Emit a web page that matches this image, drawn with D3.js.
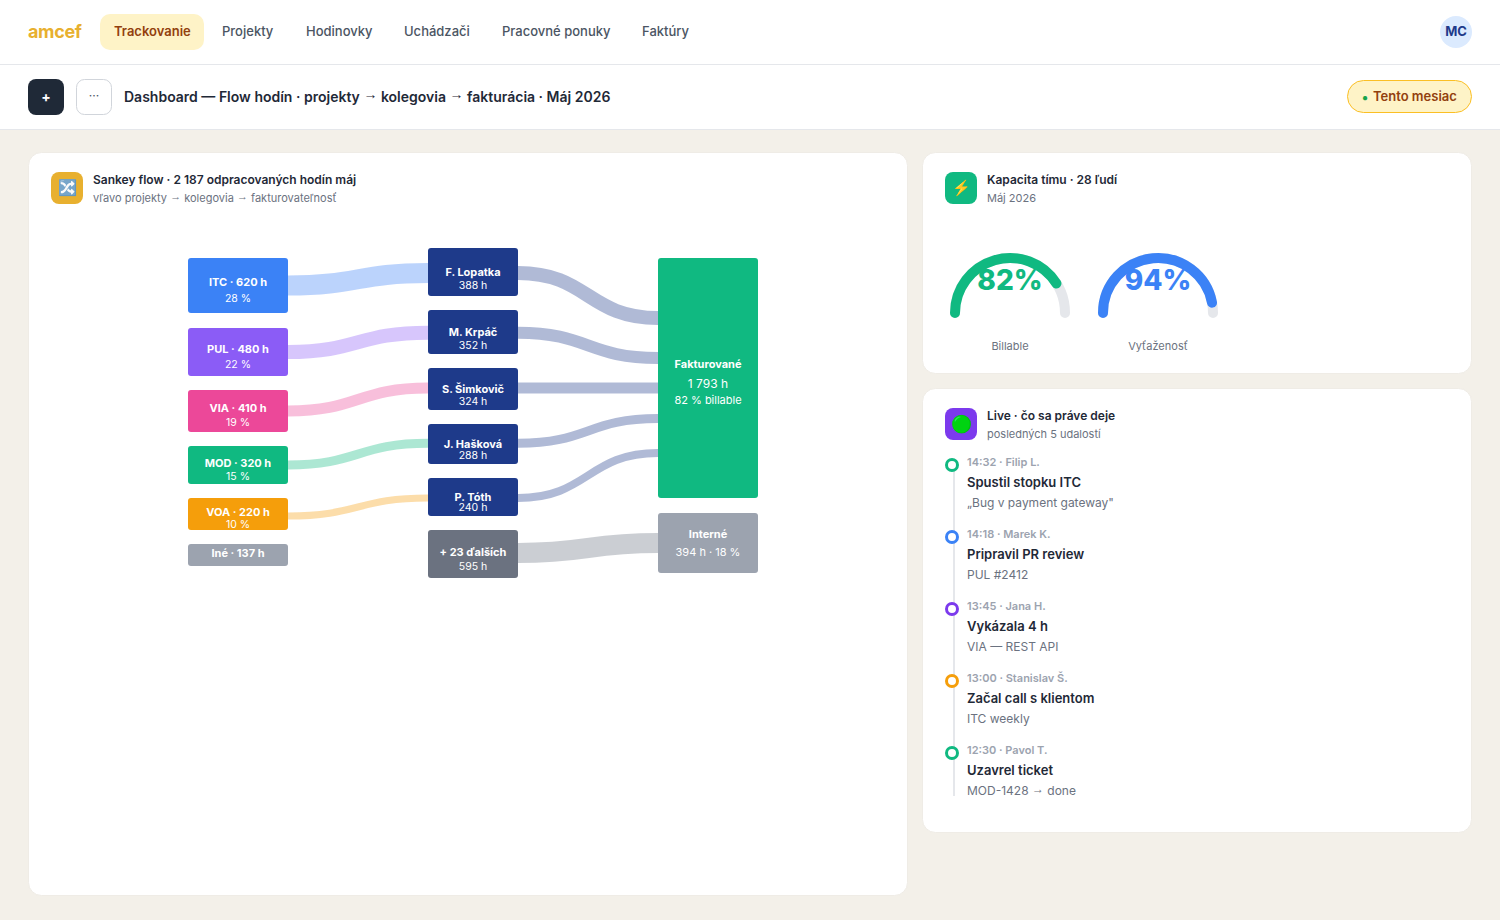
<!DOCTYPE html>
<html lang="sk">
<head>
<meta charset="utf-8">
<title>Dashboard</title>
<script src="https://cdn.jsdelivr.net/npm/d3@7"></script>
<style>
  body { margin: 0; background: #f3f0e9; overflow: hidden; }
  svg { display: block; font-family: Inter, "Noto Sans", sans-serif; }
</style>
</head>
<body>
<svg id="page" width="1500" height="920"></svg>
<script>
// nav + header
const navItems = ['Trackovanie', 'Projekty', 'Hodinovky', 'Uchádzači', 'Pracovné ponuky', 'Faktúry'];
const pageTitle = 'Dashboard — Flow hodín · projekty → kolegovia → fakturácia · Máj 2026';

// sankey columns
const projectNames = ['ITC', 'PUL', 'VIA', 'MOD', 'VOA', 'Iné'];
const projectHours = [620, 480, 410, 320, 220, 137];
const projectShares = [28, 22, 19, 15, 10, null];
const personNames = ['F. Lopatka', 'M. Krpáč', 'S. Šimkovič', 'J. Hašková', 'P. Tóth', '+ 23 ďalších'];
const personHours = [388, 352, 324, 288, 240, 595];
const outcomeNames = ['Fakturované', 'Interné'];
const outcomeHours = [1793, 394];

// flows: each project feeds the person in the same row, each person feeds an outcome
const projectLinkHours = [620, 480, 410, 320, 220];
const personLinkHours = [388, 352, 324, 288, 240, 595];
const personOutcome = ['Fakturované', 'Fakturované', 'Fakturované', 'Fakturované', 'Fakturované', 'Interné'];

// gauges
const gaugeLabels = ['Billable', 'Vyťaženosť'];
const gaugeValues = [82, 94];

// live feed
const eventTimes = ['14:32', '14:18', '13:45', '13:00', '12:30'];
const eventPeople = ['Filip L.', 'Marek K.', 'Jana H.', 'Stanislav Š.', 'Pavol T.'];
const eventTitles = ['Spustil stopku ITC', 'Pripravil PR review', 'Vykázala 4 h', 'Začal call s klientom', 'Uzavrel ticket'];
const eventDetails = ['„Bug v payment gateway"', 'PUL #2412', 'VIA — REST API', 'ITC weekly', 'MOD-1428 → done'];

const svg = d3.select('#page');
const fmt = d3.formatLocale({ decimal: ',', thousands: '\u00a0', grouping: [3], currency: ['', ''] }).format(',d');

function txt(parent, x, y, str, size, weight, color, anchor) {
    const t = parent.append('text')
        .attr('x', x).attr('y', y)
        .attr('font-size', size).attr('font-weight', weight)
        .attr('fill', color).attr('text-anchor', anchor || 'start');
    // Liberation has the thin arrow, but it sits too low, so lift it
    str.split('→').forEach((part, i) => {
        if (i > 0) {
            t.append('tspan').attr('font-family', 'Liberation Sans')
                .attr('dy', '-.2em').text('→');
        }
        t.append('tspan').attr('dy', i > 0 ? '.2em' : 0).text(part);
    });
    return t;
}

function box(parent, x, y, w, h, r, fill, stroke) {
    return parent.append('rect')
        .attr('x', x).attr('y', y).attr('width', w).attr('height', h).attr('rx', r)
        .attr('fill', fill).attr('stroke', stroke || 'none');
}

// ---- top bars
box(svg, 0, 0, 1500, 129.5, 0, '#fff');
svg.append('rect').attr('x', 0).attr('y', 64).attr('width', 1500).attr('height', 1).attr('fill', '#e5e7eb');
svg.append('rect').attr('x', 0).attr('y', 129).attr('width', 1500).attr('height', 1).attr('fill', '#e5e7eb');

txt(svg, 28, 37.5, 'amcef', 18, 700, '#e8b02f').attr('letter-spacing', -.36);

const navX = d3.scaleOrdinal(navItems, [114, 222, 306, 404, 502, 642]);
box(svg, 100, 14, 104, 36, 10, '#fef3c7');
navItems.forEach((d, i) => {
    txt(svg, navX(d), 36, d, 13, i === 0 ? 600 : 500, i === 0 ? '#92400e' : '#4b5563');
});

svg.append('circle').attr('cx', 1456).attr('cy', 32).attr('r', 16).attr('fill', '#dbeafe');
txt(svg, 1456, 36, 'MC', 13, 700, '#1e3a8a', 'middle');

box(svg, 28, 79, 36, 36, 8, '#1f2937');
txt(svg, 46, 101.5, '+', 14, 700, '#fff', 'middle');
box(svg, 76.5, 79.5, 35, 35, 8, '#fff', '#d1d5db');
txt(svg, 94, 100, '···', 12, 400, '#4b5563', 'middle');
txt(svg, 124, 102, pageTitle, 14, 600, '#1f2937');

box(svg, 1347.5, 80.5, 124, 32, 16, '#fef3c7', '#fbbf24');
const badge = txt(svg, 1362, 101, '', 13, 600, '#92400e');
badge.append('tspan').attr('fill', '#16a34a').attr('font-family', 'Liberation Sans').attr('font-size', 10).text('●');
badge.append('tspan').attr('x', 1373).text('Tento mesiac');

// ---- cards
function card(x, y, w, h, iconColor, icon, iconSize, iconFilter, title, sub) {
    const g = svg.append('g');
    box(g, x + .5, y + .5, w - 1, h - 1, 13, '#fff', '#efece6');
    box(g, x + 23, y + 20, 32, 32, 8, iconColor);
    txt(g, x + 39, y + 36 + iconSize * .35, icon, iconSize, 400, '#fff', 'middle').style('filter', iconFilter);
    txt(g, x + 65, y + 32, title, 12, 600, '#1f2937');
    txt(g, x + 65, y + 50, sub, 11, 400, '#6b7280');
    return g;
}

const sankeyTitle = 'Sankey flow · ' + fmt(d3.sum(outcomeHours)) + ' odpracovaných hodín máj';
card(28, 152, 880, 744, '#e8b02f', '🔀', 15.5, 'hue-rotate(180deg) saturate(.45)', sankeyTitle, 'vľavo projekty → kolegovia → fakturovateľnosť');
card(922, 152, 550, 222, '#10b981', '⚡', 15, 'none', 'Kapacita tímu · 28 ľudí', 'Máj 2026');
card(922, 388, 550, 445, '#7c3aed', '🟢', 17, 'hue-rotate(35deg) saturate(2.5) brightness(.9)', 'Live · čo sa práve deje', 'posledných 5 udalostí');

// ---- sankey
const colX = d3.scaleOrdinal(['project', 'person', 'outcome'], [188, 428, 658]);
const colW = d3.scaleOrdinal(['project', 'person', 'outcome'], [100, 90, 100]);

const allNames = projectNames.concat(personNames, outcomeNames);
const nodeTop = d3.scaleOrdinal(allNames, [258, 328, 390, 446, 498, 544, 248, 310, 368, 424, 478, 530, 258, 513]);
const nodeHeight = d3.scaleOrdinal(allNames, [55, 48, 42, 38, 32, 22, 48, 44, 42, 40, 38, 48, 240, 60]);
const projectColor = d3.scaleOrdinal(projectNames, ['#3b82f6', '#8b5cf6', '#ec4899', '#10b981', '#f59e0b', '#9ca3af']);
const personColor = d3.scaleOrdinal(personNames, ['#1e3a8a', '#1e3a8a', '#1e3a8a', '#1e3a8a', '#1e3a8a', '#6b7280']);
const outcomeColor = d3.scaleOrdinal(outcomeNames, ['#10b981', '#9ca3af']);

// link thickness, read per column because it does not follow the node size
const projectLinkW = d3.scaleLinear().domain([220, 320, 410, 480, 620]).range([7, 9, 11, 14, 20]);
const personLinkW = d3.scaleLinear().domain([240, 288, 324, 352, 388, 595]).range([8, 9, 11, 12, 14, 20]);

// where links leave and enter the nodes
const projectOutY = d3.scaleOrdinal(projectNames, [285.5, 352, 411, 465, 516]);
const personPortY = d3.scaleOrdinal(personNames, [273, 332.7, 388, 443.3, 498, 553]);
const entryY = d3.scaleOrdinal(personNames, [318, 358, 388, 418.5, 453, 543]);
const midY = name => nodeTop(name) + nodeHeight(name) / 2;

const linkPath = d3.linkHorizontal().x(d => d[0]).y(d => d[1]);
const sankey = svg.append('g');

const projectLinks = projectLinkHours.map((v, i) => ({ value: v, from: projectNames[i], to: personNames[i] }));
sankey.append('g').selectAll('path').data(projectLinks).join('path')
    .attr('fill', 'none')
    .attr('stroke', d => projectColor(d.from))
    .attr('stroke-opacity', .35)
    .attr('stroke-width', d => projectLinkW(d.value))
    .attr('d', d => linkPath({
        source: [colX('project') + colW('project'), projectOutY(d.from)],
        target: [colX('person'), personPortY(d.to)]
    }));

const personLinks = personLinkHours.map((v, i) => ({ value: v, from: personNames[i], to: personOutcome[i] }));
sankey.append('g').selectAll('path').data(personLinks).join('path')
    .attr('fill', 'none')
    .attr('stroke', d => personColor(d.from))
    .attr('stroke-opacity', .35)
    .attr('stroke-width', d => personLinkW(d.value))
    .attr('d', d => linkPath({
        source: [colX('person') + colW('person'), personPortY(d.from)],
        target: [colX('outcome'), entryY(d.from)]
    }));

// label baselines are measured from the node middle
const labelDy = d3.scaleOrdinal(allNames, [
    [.5, 16.5], [.7, 16], [1, 15], [2, 15], [1.5, 14], [2],
    [4, 17], [4, 17], [4, 16], [4, 15], [4, 14], [2, 16],
    [-10, 10, 26], [-5, 13]
]);

function drawNode(name, col, color, lines, subSizes) {
    const x = colX(col), w = colW(col), cy = midY(name);
    box(sankey, x, nodeTop(name), w, nodeHeight(name), 3, color);
    const dy = labelDy(name);
    lines.forEach((line, i) => {
        const size = i === 0 ? 11 : (subSizes ? subSizes[i - 1] : 10.5);
        txt(sankey, x + w / 2, cy + dy[i], line, size, i === 0 ? 700 : 400, '#fff', 'middle');
    });
}

projectNames.forEach((d, i) => {
    const lines = [d + ' · ' + projectHours[i] + ' h'];
    if (projectShares[i] !== null) lines.push(projectShares[i] + ' %');
    drawNode(d, 'project', projectColor(d), lines);
});
personNames.forEach((d, i) => drawNode(d, 'person', personColor(d), [d, personHours[i] + ' h']));
drawNode('Fakturované', 'outcome', outcomeColor('Fakturované'),
    ['Fakturované', fmt(outcomeHours[0]) + ' h', '82 % billable'], [12, 11]);
drawNode('Interné', 'outcome', outcomeColor('Interné'),
    ['Interné', outcomeHours[1] + ' h · 18 %'], [11]);

// ---- gauges
const gaugeX = d3.scaleOrdinal(gaugeLabels, [1010, 1158]);
const gaugeColor = d3.scaleOrdinal(gaugeLabels, ['#10b981', '#3b82f6']);
const gaugeAngle = d3.scaleLinear().domain([0, 100]).range([Math.PI, 2 * Math.PI]);

function gaugeArc(cx, cy, r, value) {
    const p = d3.path();
    p.arc(cx, cy, r, gaugeAngle(0), gaugeAngle(value));
    return p.toString();
}

gaugeLabels.forEach((d, i) => {
    const g = svg.append('g'), cx = gaugeX(d), cy = 313;
    g.append('path').attr('d', gaugeArc(cx, cy, 55, 100))
        .attr('fill', 'none').attr('stroke', '#e5e7eb').attr('stroke-width', 10).attr('stroke-linecap', 'round');
    g.append('path').attr('d', gaugeArc(cx, cy, 55, gaugeValues[i]))
        .attr('fill', 'none').attr('stroke', gaugeColor(d)).attr('stroke-width', 10).attr('stroke-linecap', 'round');
    txt(g, cx, 289.5, gaugeValues[i] + '%', 28, 800, gaugeColor(d), 'middle');
    txt(g, cx, 350, d, 11, 400, '#6b7280', 'middle');
});

// ---- live feed
const eventY = d3.scalePoint().domain(d3.range(eventTimes.length)).range([465, 753]);
const eventColor = d3.scaleOrdinal(d3.range(eventTimes.length), ['#10b981', '#3b82f6', '#7c3aed', '#f59e0b', '#10b981']);
const feed = svg.append('g');

feed.append('rect').attr('x', 953).attr('y', 465).attr('width', 2).attr('height', 331).attr('fill', '#e5e7eb');

eventTimes.forEach((t, i) => {
    const y = eventY(i);
    feed.append('circle').attr('cx', 952).attr('cy', y).attr('r', 5.5)
        .attr('fill', '#fff').attr('stroke', eventColor(i)).attr('stroke-width', 3);
    txt(feed, 967, y + 1, t + ' · ' + eventPeople[i], 11, 600, '#9ca3af');
    txt(feed, 967, y + 22, eventTitles[i], 13, 600, '#1f2937');
    txt(feed, 967, y + 42, eventDetails[i], 12, 400, '#6b7280');
});
</script>
</body>
</html>
